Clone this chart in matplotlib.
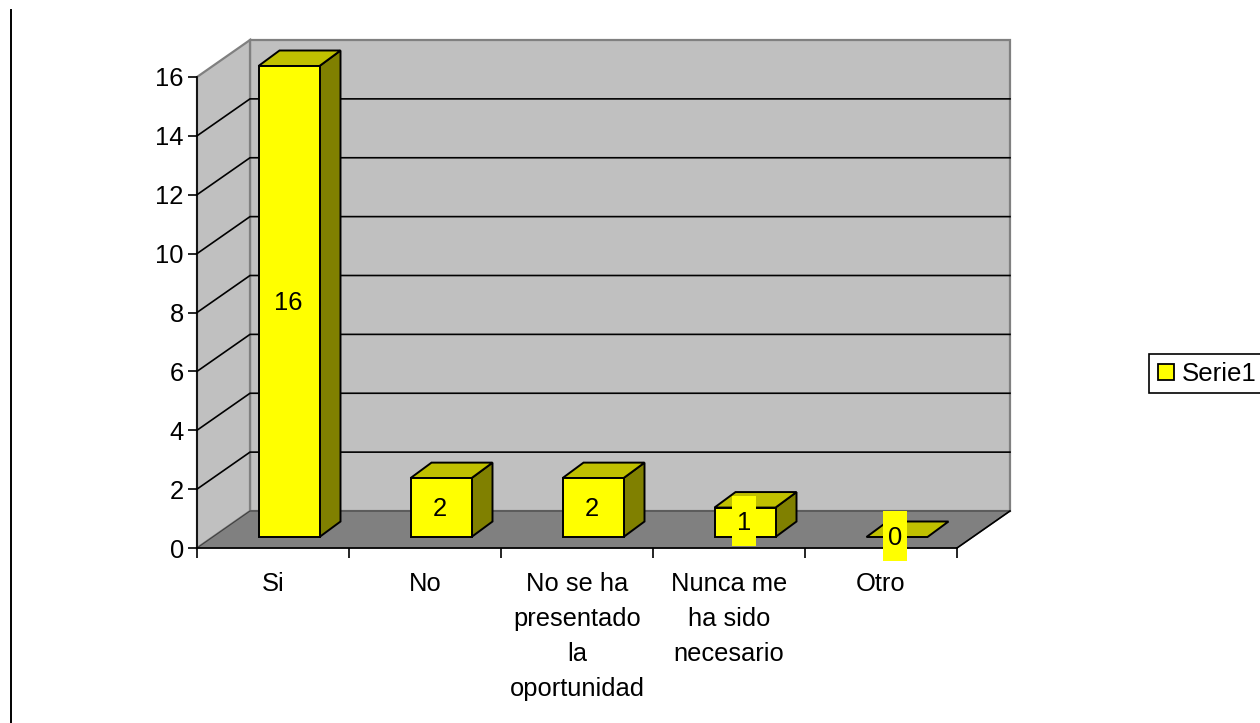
import matplotlib
matplotlib.use("Agg")
from matplotlib import pyplot as plt
from matplotlib.patches import Polygon, Rectangle

categories = ["Si", "No", "No se ha\npresentado\nla\noportunidad", "Nunca me\nha sido\nnecesario", "Otro"]
values = [16, 2, 2, 1, 0]
y_ticks = [0, 2, 4, 6, 8, 10, 12, 14, 16]
series_name = "Serie1"

W, H = 1260, 723
X0, X1, Y0, Y1 = 197, 957, 548, 77  # front plane of the chart, in pixels
PX_X = (X1 - X0) / len(categories)
PX_Y = (Y0 - Y1) / 16

WALL_DX = 53 / PX_X
WALL_DY = 37 / PX_Y
BAR_W = 61 / PX_X
BAR_DX = 21 / PX_X
BAR_DY = 15.5 / PX_Y
BAR_OFF_X = 16 / PX_X
BAR_OFF_Y = 11 / PX_Y

YELLOW = "#ffff00"
SIDE = "#808000"
TOP = "#c0c000"
WALL = "#c0c0c0"
FLOOR = "#808080"

plt.rcParams["font.family"] = ["Liberation Sans", "DejaVu Sans"]
plt.rcParams["font.size"] = 18.4

fig = plt.figure(figsize=(W / 100, H / 100), dpi=100)
ax = fig.add_axes([X0 / W, 1 - Y0 / H, (X1 - X0) / W, (Y0 - Y1) / H])
ax.set_xlim(0, len(categories))
ax.set_ylim(0, 16)
ax.patch.set_visible(False)


def poly(points, face, edge, lw=1.4, z=2):
    ax.add_patch(Polygon(points, closed=True, facecolor=face, edgecolor=edge, linewidth=lw,
                         zorder=z, clip_on=False, joinstyle="miter"))


n = len(categories)
top = y_ticks[-1]

# walls and floor
poly([(WALL_DX, WALL_DY), (n + WALL_DX, WALL_DY), (n + WALL_DX, top + WALL_DY), (WALL_DX, top + WALL_DY)],
     WALL, FLOOR, 1.6, 1)
poly([(0, 0), (WALL_DX, WALL_DY), (WALL_DX, top + WALL_DY), (0, top)], WALL, FLOOR, 1.6, 1)
poly([(0, 0), (n, 0), (n + WALL_DX, WALL_DY), (WALL_DX, WALL_DY)], FLOOR, "#404040", 0.8, 1.2)
ax.plot([n, n + WALL_DX], [0, WALL_DY], color="black", lw=1.2, zorder=1.5, clip_on=False)

# grid lines on the side wall and back wall
for t in y_ticks[1:-1]:
    ax.plot([0, WALL_DX, n + WALL_DX], [t, t + WALL_DY, t + WALL_DY], color="black", lw=1.2,
            zorder=1.5, clip_on=False, solid_joinstyle="miter")

# bars
for i, v in enumerate(values):
    x0 = i + (1 - BAR_W) / 2 + BAR_OFF_X
    x1 = x0 + BAR_W
    y0 = BAR_OFF_Y
    y1 = y0 + v
    if v > 0:
        poly([(x1, y0), (x1 + BAR_DX, y0 + BAR_DY), (x1 + BAR_DX, y1 + BAR_DY), (x1, y1)], SIDE, "black", z=3)
    poly([(x0, y1), (x1, y1), (x1 + BAR_DX, y1 + BAR_DY), (x0 + BAR_DX, y1 + BAR_DY)], TOP, "black", z=3)
    if v > 0:
        poly([(x0, y0), (x1, y0), (x1, y1), (x0, y1)], YELLOW, "black", z=4)

    # data label sits on a narrow tall yellow box
    cx = (x0 + x1) / 2 - (1 if v > 0 else 2) / PX_X
    cy = y0 + v / 2 + 1 / PX_Y
    box_w, box_h = 24 / PX_X, 50 / PX_Y
    ax.add_patch(Rectangle((cx - box_w / 2, cy - box_h / 2), box_w, box_h, facecolor=YELLOW,
                           edgecolor="none", zorder=5, clip_on=False))
    ax.text(cx, cy + 0.5 / PX_Y, str(v), ha="center", va="center_baseline", zorder=6, clip_on=False)

# axes
for s in ["top", "right"]:
    ax.spines[s].set_visible(False)
for s in ["left", "bottom"]:
    ax.spines[s].set_linewidth(1.2)
    ax.spines[s].set_zorder(2.5)
ax.set_yticks(y_ticks)
ax.set_xticks(range(n + 1))
ax.set_xticklabels([])
ax.set_xticks([i + 0.5 for i in range(n)], minor=True)
ax.set_xticklabels(categories, minor=True, linespacing=1.58, va="top")
ax.tick_params(axis="x", which="major", length=7, width=1.2)
ax.tick_params(axis="x", which="minor", length=0, pad=17)
ax.tick_params(axis="y", length=6.5, width=1.2, pad=3)

# legend: frame drawn apart so the text can sit tight to it
fig.add_artist(Rectangle((1148.5 / W, 1 - 393.5 / H), 120 / W, 39.5 / H, transform=fig.transFigure,
                         facecolor="white", edgecolor="black", linewidth=1.2))
handle = Rectangle((0, 0), 1, 1, facecolor=YELLOW, edgecolor="black", linewidth=1.3)
fig.legend([handle], [series_name], loc="center left", bbox_to_anchor=(1158 / W, 1 - 374 / H),
           bbox_transform=fig.transFigure, frameon=False,
           handlelength=0.62, handleheight=0.6, borderpad=0, handletextpad=0.3, borderaxespad=0,
           fontsize=18.6)

# stray line at the left of the picture
fig.add_artist(plt.Line2D([10.5 / W, 10.5 / W], [0, 1 - 10 / H], color="black", lw=1.4))

fig.savefig("out.png", dpi=100)
